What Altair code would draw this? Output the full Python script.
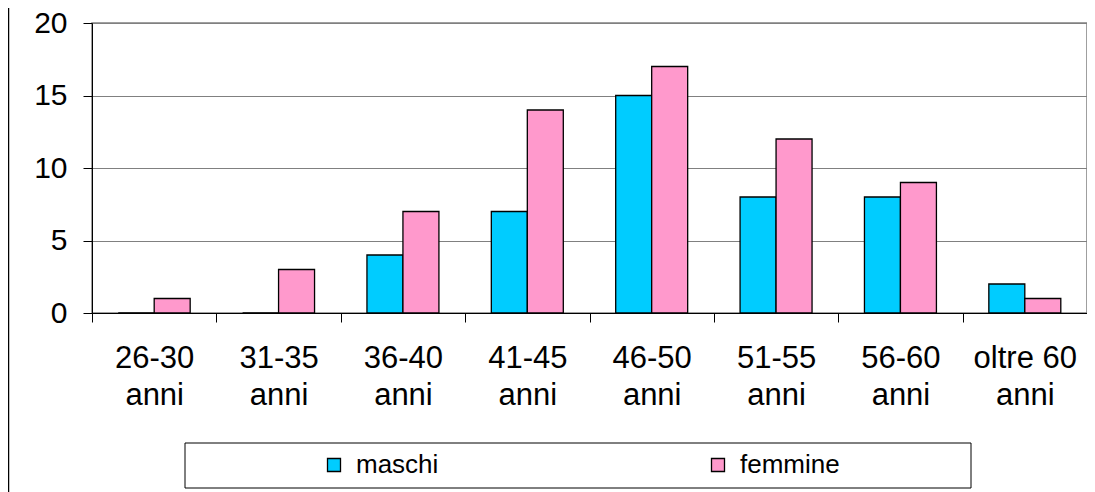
import altair as alt
import pandas as pd

categories = ["26-30 anni", "31-35 anni", "36-40 anni", "41-45 anni",
              "46-50 anni", "51-55 anni", "56-60 anni", "oltre 60 anni"]
maschi = [0, 0, 4, 7, 15, 8, 8, 2]
femmine = [1, 3, 7, 14, 17, 12, 9, 1]
series = ["maschi", "femmine"]
colors = ["#00CCFF", "#FF99CC"]
y_ticks = [0, 5, 10, 15, 20]

rows = []
for c, m, f in zip(categories, maschi, femmine):
    rows.append({"fascia": c, "sesso": "maschi", "n": m})
    rows.append({"fascia": c, "sesso": "femmine", "n": f})
df = pd.DataFrame(rows)

FONT = "Liberation Sans"

bars = alt.Chart(df).mark_bar(stroke="black", strokeWidth=1.3).encode(
    x=alt.X("fascia:N", sort=categories,
            scale=alt.Scale(paddingInner=0, paddingOuter=0),
            axis=alt.Axis(title=None, labelAngle=0, tickBand="extent",
                          tickSize=9, labelPadding=21, labelFontSize=31,
                          labelLineHeight=37, labelFont=FONT, labelColor="black",
                          domainColor="black", tickColor="black", grid=False,
                          labelExpr="datum.label == 'oltre 60 anni' ? ['oltre 60', 'anni'] : split(datum.label, ' ')")),
    xOffset=alt.XOffset("sesso:N", sort=series,
                        scale=alt.Scale(paddingInner=0, paddingOuter=0.728)),
    y=alt.Y("n:Q", scale=alt.Scale(domain=[0, 20]),
            axis=alt.Axis(title=None, values=y_ticks, tickSize=9, labelPadding=16,
                          labelFontSize=30, labelFont=FONT, labelColor="black",
                          domainColor="black", tickColor="black",
                          grid=True, gridColor="#808080", gridOpacity=1)),
    fill=alt.Fill("sesso:N", scale=alt.Scale(domain=series, range=colors),
                  legend=alt.Legend(title=None, orient="none", legendX=229, legendY=429,
                                    direction="horizontal", symbolType="square",
                                    symbolSize=169, symbolStrokeColor="black",
                                    symbolStrokeWidth=1.3, labelOffset=9,
                                    columnPadding=266, labelFontSize=26,
                                    labelFont=FONT, labelColor="black", padding=0)),
)

one = pd.DataFrame({"k": [0]})
box = alt.Chart(one).mark_rect(fill="white", stroke="black", strokeWidth=1).encode(
    x=alt.value(93), x2=alt.value(879), y=alt.value(420), y2=alt.value(465)
)
border = alt.Chart(one).mark_rule(color="black", strokeWidth=1.5).encode(
    x=alt.value(-83.5), y=alt.value(-15), y2=alt.value(469)
)

chart = alt.layer(box, bars, border).properties(
    width=995, height=290,
    autosize=alt.AutoSizeParams(type="none"),
    padding={"left": 84, "top": 15, "right": 0, "bottom": 179},
).configure_view(stroke="#808080", strokeWidth=1.5)

chart.save("out.html", embed_options={"renderer": "svg", "actions": False})
